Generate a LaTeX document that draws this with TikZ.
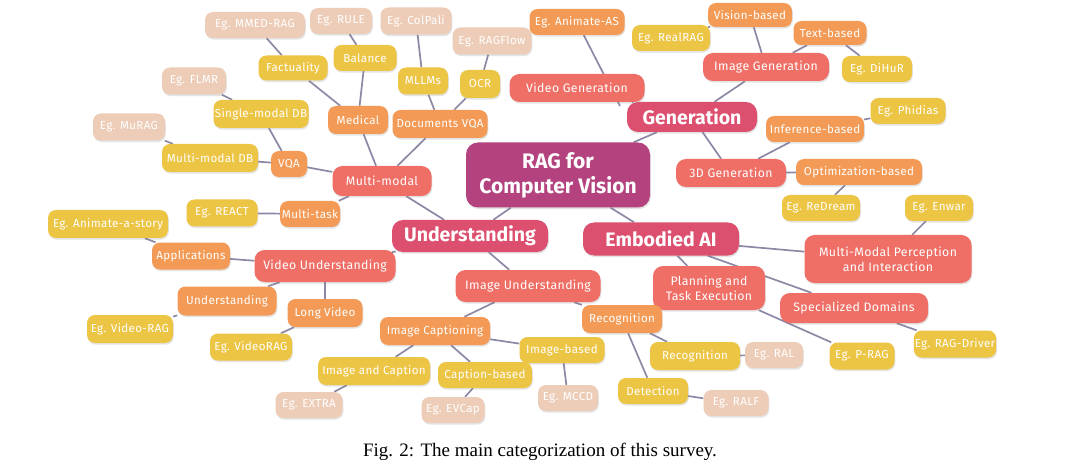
\documentclass[tikz,border=0pt]{standalone}
\usepackage{fontspec}
\setmainfont{Liberation Serif}
\newfontfamily\nf[LetterSpace=3]{Fira Sans}
\newfontfamily\nfb{Fira Sans}
\usetikzlibrary{backgrounds,shadows}
\definecolor{cRoot}{HTML}{B3427E}
\definecolor{cL1}{HTML}{DC4F6E}
\definecolor{cL2}{HTML}{EF6F66}
\definecolor{cL3}{HTML}{F39B56}
\definecolor{cL4}{HTML}{EDC545}
\definecolor{cL5}{HTML}{EDCDB8}
\definecolor{cEdge}{HTML}{8C88A6}
\tikzset{
  nb/.style={rounded corners=8pt, text=white, inner sep=1pt, align=center,
    drop shadow={opacity=0.22,shadow xshift=0.8pt,shadow yshift=-1.6pt}},
  sz/.style 2 args={minimum width=#1pt, minimum height=#2pt},
  lvroot/.style={nb, fill=cRoot, rounded corners=12pt, font=\nfb\bfseries\fontsize{21}{25}\selectfont},
  lvone/.style={nb, fill=cL1, rounded corners=11pt, font=\nfb\bfseries\fontsize{19.5}{22}\selectfont},
  lvtwo/.style={nb, fill=cL2, rounded corners=10pt, font=\nf\fontsize{12.3}{15}\selectfont},
  lvthree/.style={nb, fill=cL3, font=\nf\fontsize{11.6}{13}\selectfont},
  lvfour/.style={nb, fill=cL4, font=\nf\fontsize{11.6}{13}\selectfont},
  lvfive/.style={nb, fill=cL5, font=\nf\fontsize{11.6}{13}\selectfont},
  edge/.style={draw=cEdge, line width=1.7pt}
}
\begin{document}
\begin{tikzpicture}[x=1pt,y=-1pt]
\useasboundingbox (0,0) rectangle (1080,468);
% root and level 1
\node[lvroot,sz={184}{65}] (root) at (558,175) {RAG for\\Computer Vision};
\node[lvone,sz={130}{30}] (gen) at (692,117) {Generation};
\node[lvone,sz={156}{32}] (und) at (470,236) {Understanding};
\node[lvone,sz={156}{33}] (emb) at (661,239) {Embodied AI};
% generation
\node[lvtwo,sz={135}{28}] (vidgen) at (577,88) {Video Generation};
\node[lvtwo,sz={126}{28}] (imggen) at (766,67) {Image Generation};
\node[lvtwo,sz={110}{28}] (threed) at (731,173) {3D Generation};
\node[lvthree,sz={95}{26}] (animas) at (577,22) {Eg. Animate-AS};
\coordinate (vgc) at (620,106);
\node[lvthree,sz={84}{24}] (vision) at (750,15) {Vision-based};
\node[lvthree,sz={73}{24}] (textb) at (830,33) {Text-based};
\node[lvfour,sz={78}{26}] (realrag) at (671,38) {Eg. RealRAG};
\node[lvfour,sz={70}{26}] (dihur) at (877,69) {Eg. DiHuR};
\node[lvthree,sz={98}{26}] (infer) at (815,129) {Inference-based};
\node[lvfour,sz={75}{26}] (phidias) at (908,111) {Eg. Phidias};
\node[lvthree,sz={126}{26}] (optim) at (859,172) {Optimization-based};
\node[lvfour,sz={78}{26}] (redream) at (821,208) {Eg. ReDream};
% embodied
\node[lvtwo,sz={167}{48}] (mmpi) at (888,259) {Multi-Modal Perception\\and Interaction};
\node[lvfour,sz={68}{26}] (enwar) at (939,208) {Eg. Enwar};
\node[lvtwo,sz={148}{30}] (spec) at (854,308) {Specialized Domains};
\node[lvfour,sz={79}{27}] (ragdriver) at (955,344) {Eg. RAG-Driver};
\node[lvtwo,sz={112}{44}] (plan) at (709,288) {Planning and\\Task Execution};
\node[lvfour,sz={65}{27}] (prag) at (862,356) {Eg. P-RAG};
% understanding
\node[lvtwo,sz={99}{30}] (mm) at (382,181) {Multi-modal};
\node[lvtwo,sz={141}{32}] (vu) at (325,266) {Video Understanding};
\node[lvtwo,sz={145}{32}] (iu) at (528,286) {Image Understanding};
\node[lvthree,sz={60}{26}] (mtask) at (310,214) {Multi-task};
\node[lvfour,sz={71}{27}] (react) at (222,213) {Eg. REACT};
\node[lvthree,sz={36}{26}] (vqa) at (289,164) {VQA};
\node[lvthree,sz={60}{28}] (medical) at (358,120) {Medical};
\node[lvthree,sz={95}{28}] (docvqa) at (440,124) {Documents VQA};
\node[lvfour,sz={69}{25}] (fact) at (293,68) {Factuality};
\node[lvfour,sz={63}{26}] (balance) at (365,58) {Balance};
\node[lvfive,sz={100}{26}] (mmed) at (255,25) {Eg. MMED-RAG};
\node[lvfive,sz={62}{26}] (rule) at (341,21) {Eg. RULE};
\node[lvfour,sz={50}{27}] (mllm) at (423,81) {MLLMs};
\node[lvfour,sz={40}{28}] (ocr) at (480,84) {OCR};
\node[lvfive,sz={71}{27}] (colpali) at (416,21) {Eg. ColPali};
\node[lvfive,sz={79}{27}] (ragflow) at (492,41) {Eg. RAGFlow};
\node[lvfour,sz={95}{28}] (single) at (261,114) {Single-modal DB};
\node[lvfour,sz={96}{28}] (multidb) at (210,158) {Multi-modal DB};
\node[lvfive,sz={64}{27}] (flmr) at (194,81) {Eg. FLMR};
\node[lvfive,sz={72}{27}] (murag) at (129,127) {Eg. MuRAG};
\node[lvthree,sz={78}{27}] (apps) at (191,256) {Applications};
\node[lvfour,sz={120}{28}] (animstory) at (108,224) {Eg. Animate-a-story};
\node[lvthree,sz={99}{29}] (vunder) at (227,301) {Understanding};
\node[lvfour,sz={86}{28}] (videoragA) at (130,329) {Eg. Video-RAG};
\node[lvthree,sz={75}{28}] (longv) at (325,313) {Long Video};
\node[lvfour,sz={82}{27}] (videoragB) at (251,347) {Eg. VideoRAG};
\node[lvthree,sz={110}{28}] (icap) at (435,331) {Image Captioning};
\node[lvthree,sz={80}{28}] (recog) at (622,319) {Recognition};
\node[lvfour,sz={85}{26}] (imgb) at (562,350) {Image-based};
\node[lvfour,sz={112}{28}] (imgcap) at (374,371) {Image and Caption};
\node[lvfour,sz={94}{26}] (capb) at (485,375) {Caption-based};
\node[lvfive,sz={67}{26}] (extra) at (309,405) {Eg. EXTRA};
\node[lvfive,sz={63}{26}] (evcap) at (453,410) {Eg. EVCap};
\node[lvfive,sz={60}{26}] (mccd) at (568,398) {Eg. MCCD};
\node[lvfour,sz={90}{28}] (recogB) at (695,356) {Recognition};
\node[lvfive,sz={58}{26}] (ral) at (774,355) {Eg. RAL};
\node[lvfour,sz={70}{26}] (det) at (653,391) {Detection};
\node[lvfive,sz={65}{26}] (ralf) at (736,403) {Eg. RALF};
% caption
\node[font=\fontsize{19}{22}\selectfont, inner sep=0pt] (cap) at (540,452) {Fig. 2: The main categorization of this survey.};
\begin{scope}[on background layer]
\fill[white] (0,0) rectangle (1080,468);
\draw[edge] (root) -- (gen);
\draw[edge] (root) -- (und);
\draw[edge] (root) -- (emb);
\draw[edge] (gen) -- (vidgen);
\draw[edge] (gen) -- (imggen);
\draw[edge] (gen) -- (threed);
\draw[edge] (animas) -- (vgc);
\draw[edge] (imggen) -- (vision);
\draw[edge] (imggen) -- (textb);
\draw[edge] (vision) -- (realrag);
\draw[edge] (textb) -- (dihur);
\draw[edge] (threed) -- (infer);
\draw[edge] (threed) -- (optim);
\draw[edge] (infer) -- (phidias);
\draw[edge] (optim) -- (redream);
\draw[edge] (emb) -- (mmpi);
\draw[edge] (emb) -- (spec);
\draw[edge] (emb) -- (plan);
\draw[edge] (mmpi) -- (enwar);
\draw[edge] (spec) -- (ragdriver);
\draw[edge] (plan) -- (prag);
\draw[edge] (und) -- (mm);
\draw[edge] (und) -- (vu);
\draw[edge] (und) -- (iu);
\draw[edge] (mm) -- (mtask);
\draw[edge] (mtask) -- (react);
\draw[edge] (mm) -- (vqa);
\draw[edge] (mm) -- (medical);
\draw[edge] (mm) -- (docvqa);
\draw[edge] (medical) -- (fact);
\draw[edge] (medical) -- (balance);
\draw[edge] (fact) -- (mmed);
\draw[edge] (balance) -- (rule);
\draw[edge] (docvqa) -- (mllm);
\draw[edge] (docvqa) -- (ocr);
\draw[edge] (mllm) -- (colpali);
\draw[edge] (ocr) -- (ragflow);
\draw[edge] (vqa) -- (single);
\draw[edge] (vqa) -- (multidb);
\draw[edge] (single) -- (flmr);
\draw[edge] (multidb) -- (murag);
\draw[edge] (vu) -- (apps);
\draw[edge] (vu) -- (vunder);
\draw[edge] (vu) -- (longv);
\draw[edge] (apps) -- (animstory);
\draw[edge] (vunder) -- (videoragA);
\draw[edge] (longv) -- (videoragB);
\draw[edge] (iu) -- (icap);
\draw[edge] (iu) -- (recog);
\draw[edge] (icap) -- (imgcap);
\draw[edge] (icap) -- (capb);
\draw[edge] (icap) -- (imgb);
\draw[edge] (imgcap) -- (extra);
\draw[edge] (capb) -- (evcap);
\draw[edge] (imgb) -- (mccd);
\draw[edge] (recog) -- (recogB);
\draw[edge] (recog) -- (det);
\draw[edge] (recogB) -- (ral);
\draw[edge] (det) -- (ralf);
\end{scope}
\end{tikzpicture}
\end{document}
